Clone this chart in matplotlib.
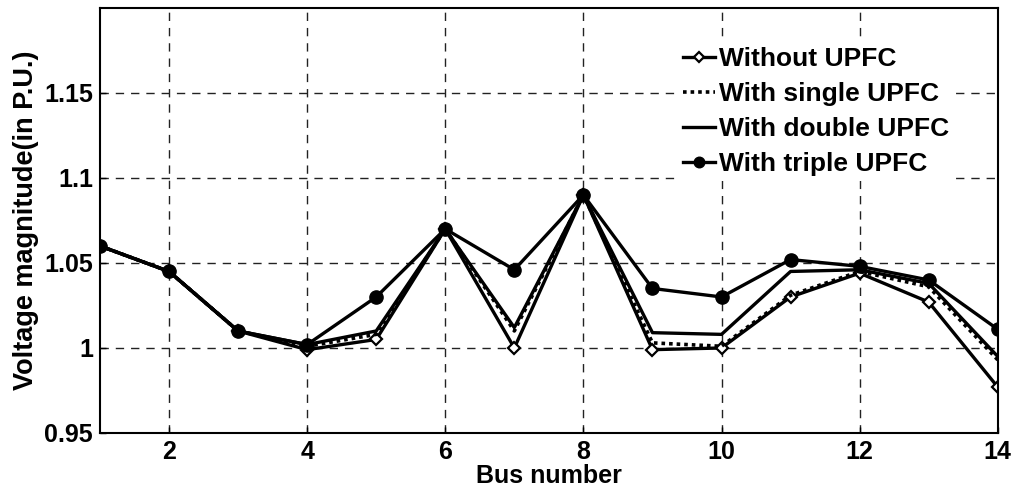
import matplotlib
matplotlib.use("Agg")
import matplotlib.pyplot as plt

plt.rcParams['font.family'] = ['Liberation Sans', 'DejaVu Sans']
plt.rcParams['font.weight'] = 'bold'

bus = [1, 2, 3, 4, 5, 6, 7, 8, 9, 10, 11, 12, 13, 14]

without_upfc = [1.060, 1.045, 1.010, 0.999, 1.005, 1.070, 1.000, 1.090,
                0.999, 1.000, 1.030, 1.044, 1.027, 0.977]
single_upfc = [1.060, 1.045, 1.010, 1.001, 1.008, 1.070, 1.010, 1.090,
               1.003, 1.001, 1.031, 1.045, 1.036, 0.993]
double_upfc = [1.060, 1.045, 1.010, 1.002, 1.010, 1.070, 1.012, 1.090,
               1.009, 1.008, 1.045, 1.046, 1.038, 0.995]
triple_upfc = [1.060, 1.045, 1.010, 1.002, 1.030, 1.070, 1.046, 1.090,
               1.035, 1.030, 1.052, 1.048, 1.040, 1.011]

series_labels = ['Without UPFC', 'With single UPFC', 'With double UPFC', 'With triple UPFC']

xticks = [2, 4, 6, 8, 10, 12, 14]
yticks = [0.95, 1.0, 1.05, 1.1, 1.15]
ytick_labels = ['0.95', '1', '1.05', '1.1', '1.15']

fig = plt.figure(figsize=(10.15, 4.94), dpi=100)
ax = fig.add_axes([0.0985, 0.1235, 0.8845, 0.8605])

lw = 2.4
h_without, = ax.plot(bus, without_upfc, color='black', lw=lw, marker='D',
                     markersize=6.5, markerfacecolor='white',
                     markeredgecolor='black', markeredgewidth=1.6, zorder=2)
h_single, = ax.plot(bus, single_upfc, color='black', lw=2.6,
                    linestyle=(0, (1, 1.1)), zorder=4)
h_double, = ax.plot(bus, double_upfc, color='black', lw=lw, zorder=3)
h_triple, = ax.plot(bus, triple_upfc, color='black', lw=lw, marker='o',
                    markersize=9.5, zorder=5)

ax.set_xlim(1, 14)
ax.set_ylim(0.95, 1.2)
ax.set_xticks(xticks)
ax.set_xticklabels([str(t) for t in xticks])
ax.set_yticks(yticks)
ax.set_yticklabels(ytick_labels)
ax.tick_params(direction='in', length=4, width=1, labelsize=18, pad=5)
for lab in ax.get_xticklabels() + ax.get_yticklabels():
    lab.set_fontweight('bold')

ax.grid(True, color='#222222', linestyle=(0, (6, 5)), linewidth=1.0)
for s in ax.spines.values():
    s.set_linewidth(1.5)

ax.set_xlabel('Bus number', fontsize=18, fontweight='bold', labelpad=0)
ax.set_ylabel('Voltage magnitude(in P.U.)', fontsize=19.5, fontweight='bold',
              labelpad=4)

# borderless legend on a white box that hides the grid behind it
leg = ax.legend([h_without, h_single, h_double, h_triple], series_labels,
                loc='upper right', bbox_to_anchor=(0.966, 0.952),
                frameon=True, fancybox=False, framealpha=1.0,
                facecolor='white', edgecolor='none',
                fontsize=19, handlelength=1.2,
                handletextpad=0.15, labelspacing=0.42, borderpad=0.2,
                markerscale=0.8)
leg.set_zorder(10)
for t in leg.get_texts():
    t.set_fontweight('bold')

fig.savefig('out.png', dpi=100)
